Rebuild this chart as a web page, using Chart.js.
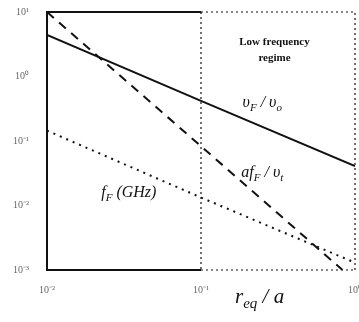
<!DOCTYPE html>
<html>
<head>
<meta charset="utf-8">
<script src="https://cdn.jsdelivr.net/npm/chart.js@4"></script>
<style>
  html, body { margin: 0; padding: 0; background: #fff; }
  #wrap { width: 359px; height: 322px; }
</style>
</head>
<body>
<div id="wrap"><canvas id="chart"></canvas></div>
<script>
// values (log-log axes)
const xTicks = [0.01, 0.1, 1];
const yTicks = [0.001, 0.01, 0.1, 1, 10];

const velX = [0.01, 0.1, 1];
const velY = [4.4, 0.42, 0.041];      // v_F / v_o

const freqRatioX = [0.01, 0.1, 0.83];
const freqRatioY = [10, 0.083, 0.001]; // a f_F / v_t

const freqX = [0.01, 0.1, 1];
const freqY = [0.145, 0.0133, 0.0013]; // f_F (GHz)

const supMap = { '-': '⁻', '0': '⁰', '1': '¹', '2': '²', '3': '³' };
function powLabel(v) {
    const e = String(Math.round(Math.log10(v)));
    return '10' + e.split('').map(c => supMap[c]).join('');
}

function pts(xs, ys) {
    return xs.map((x, i) => ({ x: x, y: ys[i] }));
}

// text pieces, sub = subscript
const notes = [
    { x: 0.3, y: 3.4, font: 'bold 11px "Liberation Serif"', parts: [{ t: 'Low frequency' }] },
    { x: 0.3, y: 1.94, font: 'bold 11px "Liberation Serif"', parts: [{ t: 'regime' }] },
    { x: 0.25, y: 0.39, font: 'italic 16px "Liberation Serif"', parts: [{ t: 'υ' }, { t: 'F', sub: true }, { t: ' / υ' }, { t: 'o', sub: true }] },
    { x: 0.25, y: 0.032, font: 'italic 16px "Liberation Serif"', parts: [{ t: 'af' }, { t: 'F', sub: true }, { t: ' / υ' }, { t: 't', sub: true }] },
    { x: 0.034, y: 0.0158, font: 'italic 16px "Liberation Serif"', parts: [{ t: 'f' }, { t: 'F', sub: true }, { t: ' (GHz)' }] }
];

function drawParts(ctx, parts, font, cx, cy) {
    const size = parseInt(font.match(/(\d+)px/)[1]);
    const subFont = font.replace(/\d+px/, Math.round(size * 0.7) + 'px');
    let w = 0;
    parts.forEach(p => {
        ctx.font = p.sub ? subFont : font;
        w += ctx.measureText(p.t).width;
    });
    let x = cx - w / 2;
    parts.forEach(p => {
        ctx.font = p.sub ? subFont : font;
        ctx.fillText(p.t, x, p.sub ? cy + size * 0.35 : cy);
        x += ctx.measureText(p.t).width;
    });
}

const framePlugin = {
    id: 'frame',
    afterDatasetsDraw(chart) {
        const ctx = chart.ctx;
        const a = chart.chartArea;
        const xs = chart.scales.x;
        const mid = xs.getPixelForValue(0.1);
        ctx.save();
        ctx.strokeStyle = '#111';
        // solid part of the box
        ctx.lineWidth = 2;
        ctx.beginPath();
        ctx.moveTo(mid, a.bottom); ctx.lineTo(a.left, a.bottom);
        ctx.lineTo(a.left, a.top); ctx.lineTo(mid, a.top);
        ctx.stroke();
        // dotted part
        ctx.lineWidth = 1.2;
        ctx.setLineDash([2, 3]);
        ctx.beginPath();
        ctx.moveTo(mid, a.top); ctx.lineTo(mid, a.bottom);
        ctx.moveTo(mid, a.top); ctx.lineTo(a.right, a.top); ctx.lineTo(a.right, a.bottom);
        ctx.moveTo(mid, a.bottom); ctx.lineTo(a.right, a.bottom);
        ctx.stroke();
        ctx.setLineDash([]);

        ctx.fillStyle = '#111';
        ctx.textBaseline = 'middle';
        ctx.textAlign = 'left';
        const ys = chart.scales.y;
        notes.forEach(n => {
            drawParts(ctx, n.parts, n.font, xs.getPixelForValue(n.x), ys.getPixelForValue(n.y));
        });
        // axis title
        drawParts(ctx, [{ t: 'r' }, { t: 'eq', sub: true }, { t: ' / a' }],
            'italic 21px "Liberation Serif"', xs.getPixelForValue(0.24), a.bottom + 27);
        ctx.restore();
    }
};

const tickFont = { family: '"Liberation Serif"', size: 10 };

new Chart(document.getElementById('chart'), {
    type: 'scatter',
    data: {
        datasets: [
            { data: pts(velX, velY), borderColor: '#111', borderWidth: 2, showLine: true, pointRadius: 0 },
            { data: pts(freqRatioX, freqRatioY), borderColor: '#111', borderWidth: 2, borderDash: [9, 7], showLine: true, pointRadius: 0 },
            { data: pts(freqX, freqY), borderColor: '#111', borderWidth: 2, borderDash: [2, 5], showLine: true, pointRadius: 0 }
        ]
    },
    options: {
        responsive: true,
        maintainAspectRatio: false,
        animation: false,
        layout: { padding: { top: 12, right: 4, left: 0, bottom: 0 } },
        plugins: { legend: { display: false }, tooltip: { enabled: false } },
        scales: {
            x: {
                type: 'logarithmic',
                min: 0.01, max: 1,
                grid: { display: false },
                border: { display: false },
                afterBuildTicks: s => { s.ticks = xTicks.map(v => ({ value: v })); },
                afterFit: s => { s.height = 52; s.paddingLeft = 0; s.paddingRight = 0; },
                ticks: { color: '#666', font: tickFont, padding: 6, maxRotation: 0, callback: v => powLabel(v) }
            },
            y: {
                type: 'logarithmic',
                min: 0.001, max: 10,
                grid: { display: false },
                border: { display: false },
                afterBuildTicks: s => { s.ticks = yTicks.map(v => ({ value: v })); },
                afterFit: s => { s.width = 47; s.paddingTop = 0; s.paddingBottom = 0; },
                ticks: { color: '#666', font: tickFont, padding: 10, callback: v => powLabel(v) }
            }
        }
    },
    plugins: [framePlugin]
});
</script>
</body>
</html>
